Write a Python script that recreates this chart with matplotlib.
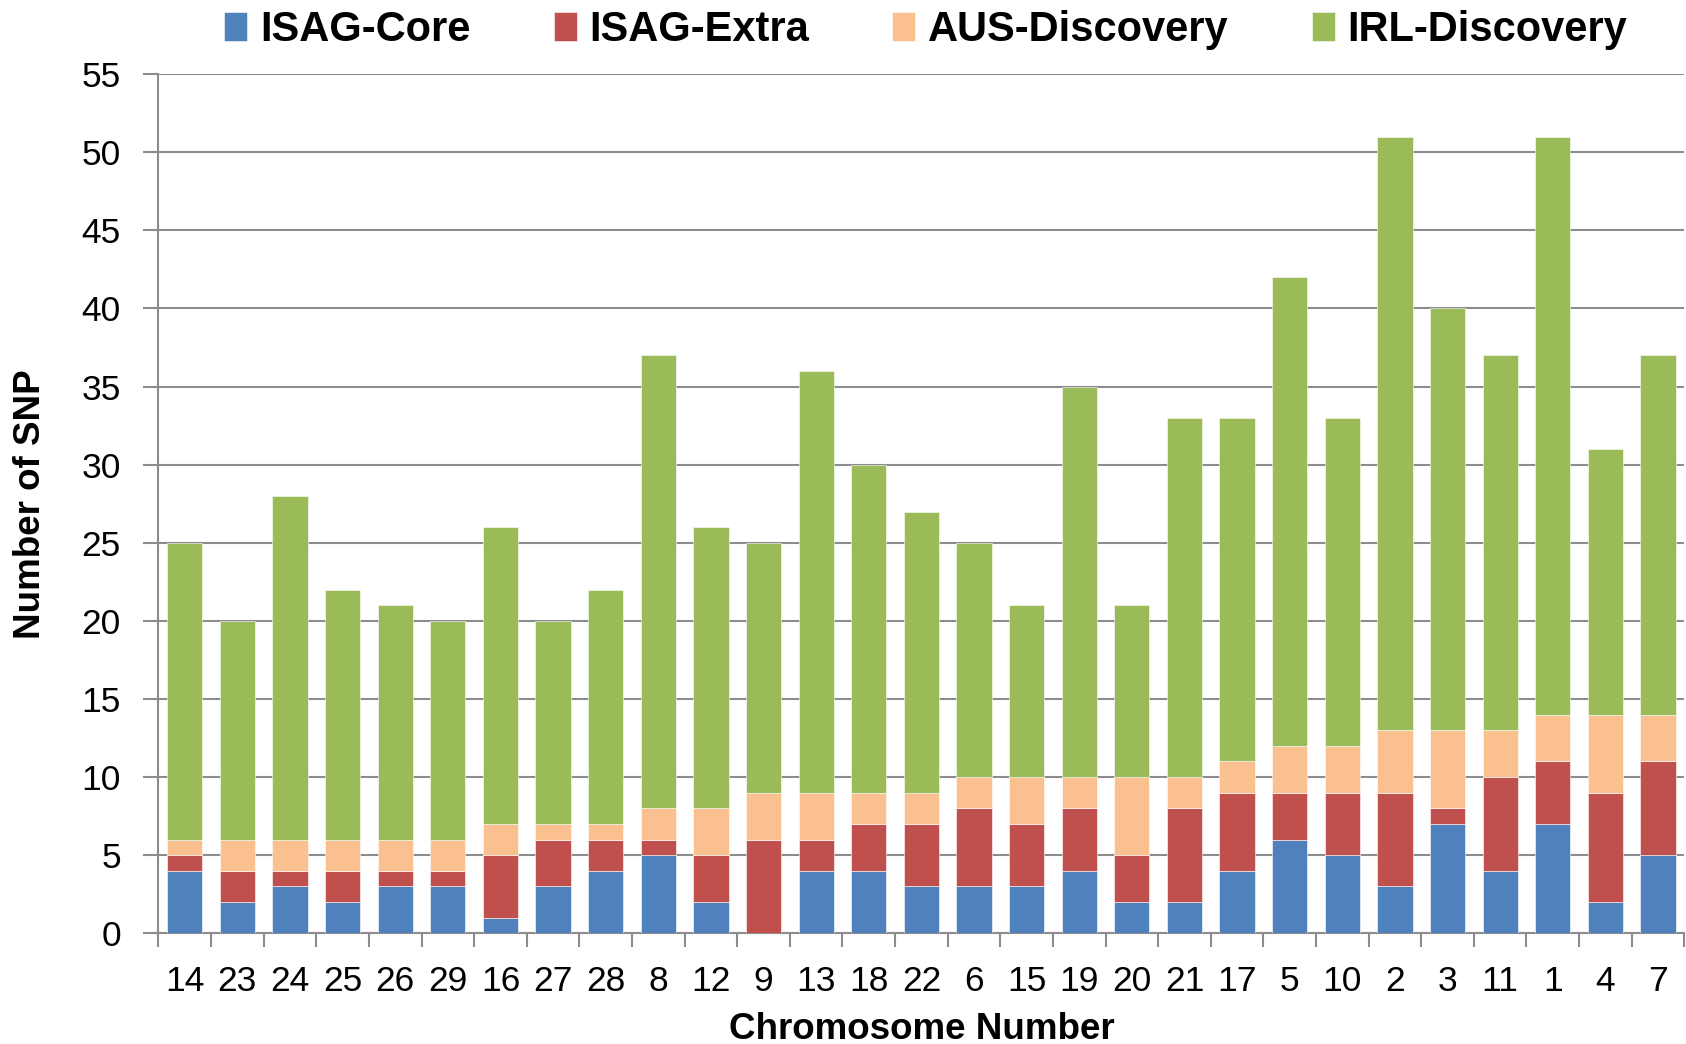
import matplotlib.pyplot as plt
import numpy as np

plt.rcParams['font.family'] = ['Liberation Sans', 'DejaVu Sans']

chromosomes = ['14', '23', '24', '25', '26', '29', '16', '27', '28', '8', '12', '9', '13', '18',
               '22', '6', '15', '19', '20', '21', '17', '5', '10', '2', '3', '11', '1', '4', '7']
isag_core = [4, 2, 3, 2, 3, 3, 1, 3, 4, 5, 2, 0, 4, 4, 3, 3, 3, 4, 2, 2, 4, 6, 5, 3, 7, 4, 7, 2, 5]
isag_extra = [1, 2, 1, 2, 1, 1, 4, 3, 2, 1, 3, 6, 2, 3, 4, 5, 4, 4, 3, 6, 5, 3, 4, 6, 1, 6, 4, 7, 6]
aus_disc = [1, 2, 2, 2, 2, 2, 2, 1, 1, 2, 3, 3, 3, 2, 2, 2, 3, 2, 5, 2, 2, 3, 3, 4, 5, 3, 3, 5, 3]
irl_disc = [19, 14, 22, 16, 15, 14, 19, 13, 15, 29, 18, 16, 27, 21, 18, 15, 11, 25, 11, 23, 22, 30,
            21, 38, 27, 24, 37, 17, 23]

series = [('ISAG-Core', isag_core, '#4f81bd'),
          ('ISAG-Extra', isag_extra, '#c0504d'),
          ('AUS-Discovery', aus_disc, '#fac090'),
          ('IRL-Discovery', irl_disc, '#9bbb59')]

fig = plt.figure(figsize=(16.86, 10.44), dpi=100)
ax = fig.add_axes([0.094, 0.106, 0.905, 0.823])

x = np.arange(len(chromosomes))
bottom = np.zeros(len(chromosomes))
for name, vals, col in series:
    ax.bar(x, vals, 0.67, bottom=bottom, color=col, label=name, zorder=3,
           edgecolor='white', linewidth=0.4)
    bottom += np.array(vals)

ax.set_xlim(-0.5, len(chromosomes) - 0.5)
ax.set_ylim(0, 55)
ax.set_yticks(np.arange(0, 56, 5))
ax.yaxis.grid(True, color='#8c8c8c', linewidth=1.5, zorder=0)

# labels sit under the bars, tick marks between the bars
ax.set_xticks(x)
ax.set_xticklabels(chromosomes, fontsize=25.5)
ax.set_xticks(np.arange(-0.5, len(chromosomes), 1), minor=True)
ax.tick_params(axis='x', which='major', length=0, pad=23)
ax.tick_params(axis='x', which='minor', length=10, width=1.5, color='#8c8c8c')
ax.tick_params(axis='y', labelsize=25.5, length=11, width=1.5, color='#8c8c8c', pad=16)

for s in ['top', 'right']:
    ax.spines[s].set_visible(False)
for s in ['left', 'bottom']:
    ax.spines[s].set_color('#8c8c8c')
    ax.spines[s].set_linewidth(1.5)

ax.set_xlabel('Chromosome Number', fontsize=26.5, fontweight='bold', labelpad=10)
ax.set_ylabel('Number of SNP', fontsize=26.5, fontweight='bold', labelpad=24)

fig.legend(loc='center', bbox_to_anchor=(0.549, 0.971), ncol=4, frameon=False,
           prop={'weight': 'bold', 'size': 30},
           handlelength=0.55, handleheight=0.7, handletextpad=0.3, columnspacing=2.0)

fig.savefig('out.png', dpi=100)
